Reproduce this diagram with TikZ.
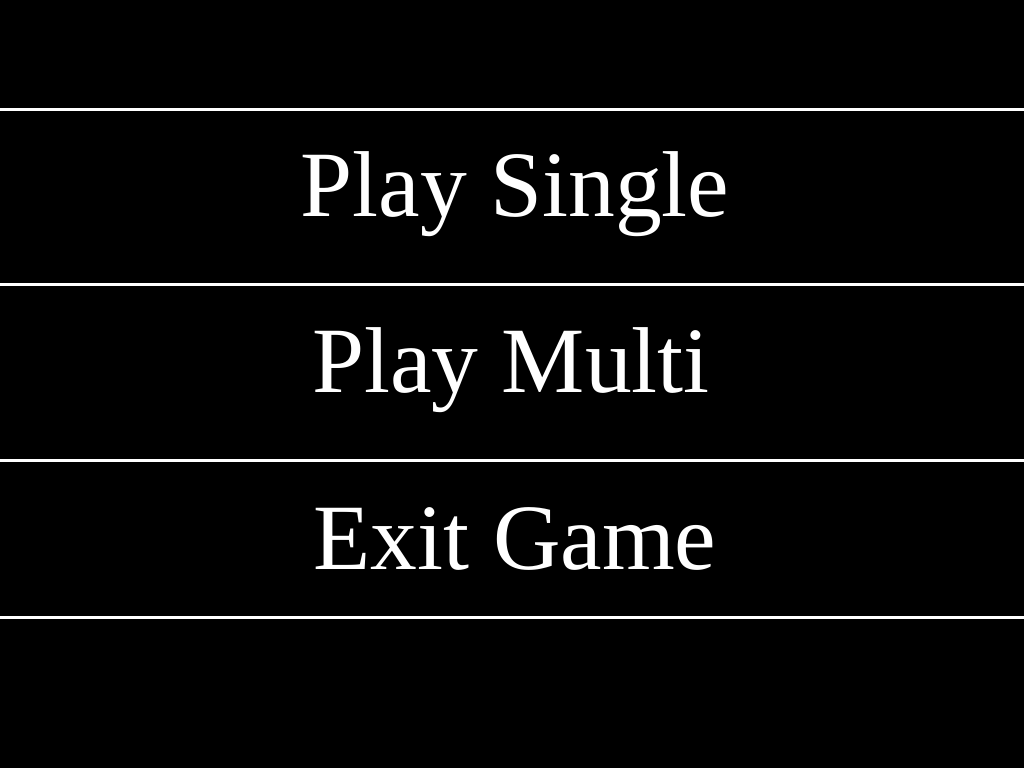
\documentclass[tikz,border=0pt]{standalone}
\usepackage{fontspec}
\setmainfont{Liberation Serif}
\usetikzlibrary{positioning}
\begin{document}
\begin{tikzpicture}[x=0.01cm, y=-0.01cm]
\tikzstyle{menu}=[anchor=base, inner sep=0pt, text=white, font=\fontsize{26.6pt}{30pt}\selectfont]
\tikzstyle{sep}=[draw=white, line width=0.75pt]
\fill[black] (0,0) rectangle (1024,768);
\useasboundingbox (0,0) rectangle (1024,768);
%separators
\foreach \n/\y in {a/109.5,b/284.5,c/460.5,d/617.5}{
  \coordinate (\n l) at (0,\y);
  \coordinate (\n r) at (1024,\y);
  \draw[sep] (\n l) -- (\n r);}
%entries
\node[menu] (single) at (515,217) {Play Single};
\node[menu] (multi) at (511,393) {Play Multi};
\node[menu] (exit) at (515,570) {Exit Game};
\end{tikzpicture}
\end{document}
